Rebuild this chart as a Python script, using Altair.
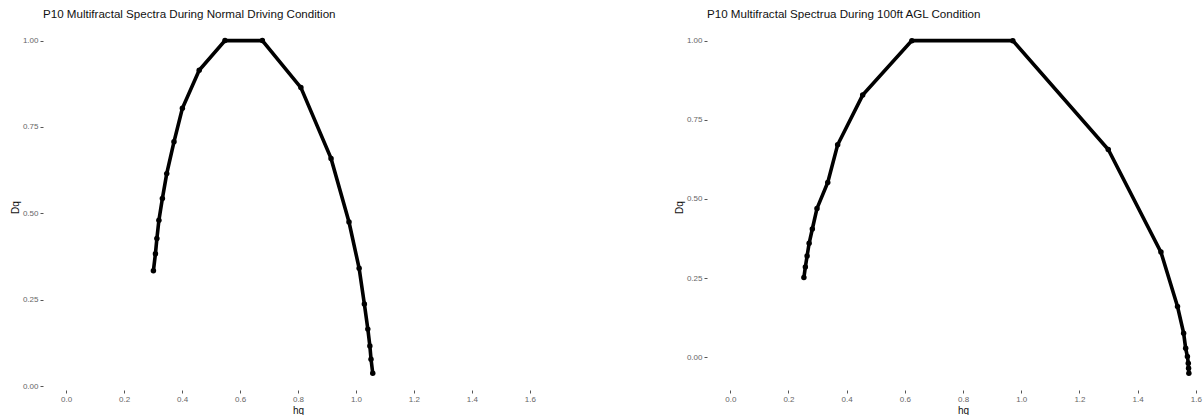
import altair as alt
import pandas as pd

# Multifractal spectrum, normal driving condition (sorted by hq)
hq_normal = [0.301, 0.308, 0.313, 0.320, 0.332, 0.347, 0.372, 0.401, 0.459, 0.548,
             0.677, 0.810, 0.914, 0.976, 1.011, 1.029, 1.041, 1.048, 1.052, 1.058]
dq_normal = [0.334, 0.383, 0.427, 0.480, 0.543, 0.615, 0.707, 0.804, 0.914, 1.000,
             1.000, 0.864, 0.659, 0.475, 0.341, 0.238, 0.165, 0.116, 0.078, 0.037]

# Multifractal spectrum, 100ft AGL condition (sorted by hq)
hq_agl = [0.253, 0.258, 0.264, 0.271, 0.282, 0.298, 0.335, 0.369, 0.455, 0.624,
          0.971, 1.299, 1.480, 1.537, 1.558, 1.565, 1.571, 1.574, 1.575, 1.576]
dq_agl = [0.252, 0.285, 0.320, 0.360, 0.405, 0.470, 0.552, 0.671, 0.828, 1.000,
          1.000, 0.656, 0.332, 0.160, 0.076, 0.028, 0.002, -0.019, -0.035, -0.051]

x_ticks = [0.0, 0.2, 0.4, 0.6, 0.8, 1.0, 1.2, 1.4, 1.6]
y_ticks = [0.0, 0.25, 0.5, 0.75, 1.0]

title_normal = "P10 Multifractal Spectra During Normal Driving Condition"
title_agl = "P10 Multifractal Spectrua During 100ft AGL Condition"

FONT = "Liberation Sans"
PANEL_H = 366


def spectrum(hq, dq, title, x_domain, y_domain, width, title_x):
    df = pd.DataFrame({"hq": hq, "Dq": dq, "i": list(range(len(hq)))})
    x = alt.X("hq:Q", title="hq",
              scale=alt.Scale(domain=x_domain, nice=False, zero=False),
              axis=alt.Axis(values=x_ticks, format=".1f", titleX=title_x))
    y = alt.Y("Dq:Q", title="Dq",
              scale=alt.Scale(domain=y_domain, nice=False, zero=False),
              axis=alt.Axis(values=y_ticks, format=".2f"))
    base = alt.Chart(df).encode(x=x, y=y, order="i:Q")
    line = base.mark_line(color="black", strokeWidth=3.6, clip=True)
    pts = base.mark_circle(color="black", size=30, opacity=1, clip=True)
    return (line + pts).properties(
        width=width, height=PANEL_H,
        title=alt.TitleParams(title, anchor="start", frame="group",
                              fontSize=11.6, font=FONT,
                              fontWeight="normal", color="#111", offset=3),
    )


left = spectrum(hq_normal, dq_normal, title_normal,
                [-0.08, 1.68], [-0.0112, 1.048], 510, 255)
right = spectrum(hq_agl, dq_agl, title_agl,
                 [-0.08, 1.628], [-0.1036, 1.0526], 497, 256)

chart = alt.hconcat(left, right, spacing=121).properties(
    padding={"left": 10, "top": 9, "right": 0, "bottom": 0},
    background="white",
).configure_view(stroke=None).configure_axis(
    grid=False, domain=False,
    tickColor="#555", tickSize=3, tickWidth=1,
    labelColor="#666", labelFontSize=8, labelFont=FONT, labelPadding=2,
    titleColor="#111", titleFontSize=10, titleFont=FONT,
    titleFontWeight="normal", titlePadding=2,
)

chart.save("out.html", embed_options={"renderer": "svg", "actions": False})
